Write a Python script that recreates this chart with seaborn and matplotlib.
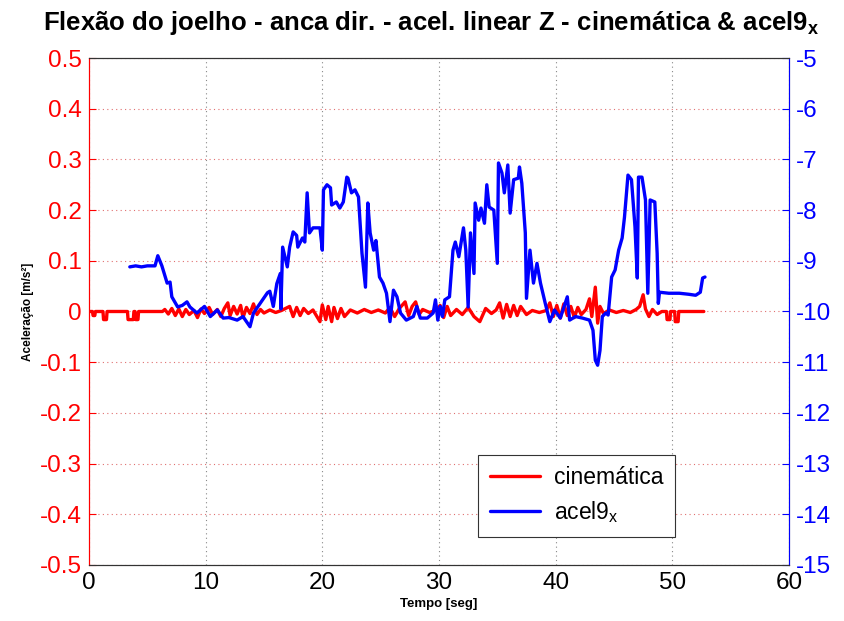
import matplotlib
matplotlib.use("Agg")
import matplotlib.pyplot as plt
import seaborn as sns
import pandas as pd
from matplotlib.lines import Line2D

# acel9_x (right axis), (time, value)
acel_points = [
    (3.5, -9.12), (4.0, -9.10), (4.5, -9.12), (5.0, -9.10), (5.66, -9.10), (5.9, -8.90),
    (6.25, -9.10), (6.7, -9.44), (6.95, -9.42), (7.1, -9.71), (7.4, -9.83), (7.6, -9.91),
    (8.0, -9.88), (8.4, -9.81), (8.65, -9.91), (9.25, -10.03), (9.9, -9.90), (10.4, -10.10),
    (11.0, -9.97), (11.5, -10.13), (12.0, -10.12), (12.7, -10.17), (13.2, -10.10),
    (13.8, -10.30), (14.1, -10.03), (14.7, -9.83), (15.3, -9.63), (15.5, -9.60),
    (15.8, -9.90), (16.1, -9.45), (16.4, -9.25), (16.45, -9.95), (16.6, -8.73),
    (17.0, -9.12), (17.2, -8.73), (17.5, -8.43), (17.8, -8.50), (17.9, -8.73),
    (18.3, -8.55), (18.5, -8.63), (18.7, -7.66), (18.9, -8.45), (19.2, -8.35),
    (19.8, -8.35), (20.0, -8.79), (20.1, -7.60), (20.4, -7.50), (20.7, -7.56),
    (20.8, -7.90), (21.2, -7.84), (21.5, -7.96), (21.8, -7.84), (22.1, -7.35),
    (22.2, -7.37), (22.5, -7.66), (22.8, -7.60), (23.1, -7.74), (23.4, -8.85),
    (23.7, -9.52), (23.9, -7.86), (24.1, -8.45), (24.4, -8.79), (24.6, -8.60),
    (24.9, -9.32), (25.2, -9.44), (25.5, -9.64), (25.8, -10.20), (26.1, -9.58),
    (26.4, -9.71), (26.7, -10.03), (27.2, -10.17), (27.8, -10.10), (28.1, -9.90),
    (28.4, -10.13), (29.0, -10.13), (29.5, -10.03), (29.7, -9.77), (29.9, -10.17),
    (30.1, -9.90), (30.3, -10.10), (30.5, -9.77), (30.9, -9.71), (31.2, -8.79),
    (31.4, -8.63), (31.7, -8.92), (32.1, -8.35), (32.3, -8.79), (32.5, -9.91),
    (32.7, -8.45), (33.0, -9.25), (33.1, -7.86), (33.4, -8.20), (33.6, -7.96),
    (33.9, -8.26), (34.1, -7.50), (34.3, -7.94), (34.7, -8.00), (35.0, -9.05),
    (35.1, -7.07), (35.4, -7.27), (35.6, -7.66), (35.9, -7.11), (36.1, -8.06),
    (36.4, -7.40), (36.8, -7.37), (36.9, -7.15), (37.1, -7.47), (37.4, -8.45),
    (37.5, -9.74), (37.8, -8.79), (38.1, -9.44), (38.4, -9.05), (38.7, -9.44),
    (39.1, -9.83), (39.5, -10.20), (39.9, -9.97), (40.4, -10.13), (41.0, -9.71),
    (41.2, -10.17), (41.7, -10.10), (42.3, -10.13), (42.9, -10.17), (43.2, -10.37),
    (43.4, -10.96), (43.6, -11.06), (43.8, -10.77), (44.0, -10.10), (44.3, -10.03),
    (44.5, -10.07), (44.8, -9.32), (45.1, -9.18), (45.4, -8.79), (45.7, -8.55),
    (45.9, -8.14), (46.2, -7.31), (46.5, -7.40), (46.8, -8.33), (47.0, -9.34),
    (47.1, -7.35), (47.4, -7.35), (47.7, -7.80), (47.9, -9.64), (48.1, -7.80),
    (48.5, -7.84), (48.7, -8.85), (48.8, -9.84), (48.9, -9.62), (49.7, -9.64),
    (50.6, -9.64), (51.4, -9.66), (52.0, -9.68), (52.4, -9.62), (52.6, -9.34),
    (52.8, -9.32),
]

# cinematica (left axis), (time, value)
cin_points = [
    (0.0, 0), (0.3, 0), (0.35, -0.008), (0.5, -0.008), (0.55, 0), (1.2, 0), (1.25, -0.016),
    (1.5, -0.016), (1.55, 0), (3.3, 0), (3.35, -0.016), (3.8, -0.016), (3.85, 0), (3.95, 0),
    (4.0, -0.016), (4.2, -0.016), (4.25, 0), (6.3, 0), (6.5, 0.004), (6.8, -0.005),
    (7.1, 0.006), (7.4, -0.008), (7.7, 0.005), (8.0, -0.010), (8.3, 0.004), (8.6, -0.006),
    (9.0, 0.002), (9.3, -0.012), (9.6, 0.005), (9.9, -0.004), (10.3, 0.008), (10.6, -0.006),
    (11.0, 0.004), (11.3, -0.010), (11.6, 0.006), (11.9, 0.017), (12.1, -0.008),
    (12.4, 0.010), (12.7, -0.005), (13.0, 0.012), (13.2, -0.012), (13.5, 0.008),
    (13.8, -0.004), (14.1, 0.015), (14.4, -0.006), (14.7, 0.004), (15.0, -0.003),
    (15.5, 0.003), (16.0, -0.002), (16.5, 0.002), (17.2, 0.010), (17.5, -0.010),
    (17.8, 0.008), (18.1, -0.008), (18.4, 0.006), (18.8, -0.004), (19.2, 0.003),
    (19.8, -0.020), (20.0, 0.013), (20.3, -0.016), (20.5, 0.010), (20.8, -0.020),
    (21.0, 0.008), (21.3, -0.014), (21.6, 0.006), (21.9, -0.010), (22.4, 0.003),
    (23.0, -0.003), (23.6, 0.004), (24.2, -0.002), (24.8, 0.003), (25.4, -0.003),
    (25.8, 0.008), (26.2, -0.010), (26.6, 0.006), (27.1, 0.019), (27.4, -0.008),
    (27.7, 0.010), (28.0, 0.019), (28.3, -0.006), (28.6, 0.004), (29.2, -0.002),
    (29.8, 0.003), (30.1, 0.012), (30.4, -0.012), (30.7, 0.010), (31.0, -0.008),
    (31.5, 0.004), (32.0, -0.006), (32.5, 0.008), (33.0, -0.010), (33.5, -0.020),
    (34.0, 0.006), (34.5, -0.004), (34.9, 0.003), (35.2, 0.017), (35.5, -0.013),
    (35.8, 0.014), (36.1, -0.010), (36.4, 0.012), (36.7, -0.008), (37.0, 0.010),
    (37.5, -0.006), (38.0, 0.002), (38.6, -0.002), (39.2, 0.002), (39.5, 0.017),
    (39.8, -0.010), (40.1, 0.012), (40.4, -0.013), (40.7, 0.015), (41.0, -0.008),
    (41.3, 0.010), (41.6, -0.012), (41.9, 0.008), (42.2, -0.006), (42.6, 0.004),
    (42.9, 0.025), (43.1, -0.010), (43.4, 0.048), (43.6, -0.023), (43.8, 0.010),
    (44.1, -0.004), (44.6, 0.003), (45.2, -0.002), (45.8, 0.002), (46.4, -0.002),
    (46.9, 0.004), (47.2, 0.010), (47.5, 0.033), (47.7, 0.005), (48.0, -0.010),
    (48.3, 0.004), (48.7, -0.006), (49.1, 0), (49.5, 0), (49.55, -0.016), (49.8, -0.016),
    (49.85, 0), (50.2, 0), (50.25, -0.020), (50.5, -0.020), (50.55, 0), (52.7, 0),
]

left_ticks = [0.5, 0.4, 0.3, 0.2, 0.1, 0.0, -0.1, -0.2, -0.3, -0.4, -0.5]
left_labels = ["0.5", "0.4", "0.3", "0.2", "0.1", "0", "-0.1", "-0.2", "-0.3", "-0.4", "-0.5"]
right_ticks = [-5, -6, -7, -8, -9, -10, -11, -12, -13, -14, -15]
right_labels = ["-5", "-6", "-7", "-8", "-9", "-10", "-11", "-12", "-13", "-14", "-15"]
x_ticks = [0, 10, 20, 30, 40, 50, 60]

sns.set_theme(style="white")
plt.rcParams.update({
    "font.family": ["Liberation Sans", "DejaVu Sans"],
    "mathtext.fontset": "custom",
    "mathtext.rm": "Liberation Sans",
    "mathtext.it": "Liberation Sans",
    "mathtext.bf": "Liberation Sans:bold",
    "text.color": "black",
    "axes.labelcolor": "black",
})

red = "#ff0000"
blue = "#0000ff"

df_cin = pd.DataFrame(cin_points, columns=["t", "v"])
df_acel = pd.DataFrame(acel_points, columns=["t", "v"])

fig = plt.figure(figsize=(8.45, 6.21), dpi=100)
ax1 = fig.add_axes([0.1053, 0.0902, 0.8284, 0.8164])
ax2 = ax1.twinx()

sns.lineplot(data=df_cin, x="t", y="v", color=red, linewidth=2.4, ax=ax1,
             estimator=None, sort=False)
sns.lineplot(data=df_acel, x="t", y="v", color=blue, linewidth=2.4, ax=ax2,
             estimator=None, sort=False)

ax1.set_xlim(0, 60)
ax1.set_ylim(-0.5, 0.5)
ax2.set_ylim(-15, -5)
ax1.set_xticks(x_ticks)
ax1.set_xticklabels([str(x) for x in x_ticks], fontsize=17.5)
ax1.set_yticks(left_ticks)
ax1.set_yticklabels(left_labels, fontsize=17.5, color=red)
ax2.set_yticks(right_ticks)
ax2.set_yticklabels(right_labels, fontsize=17.5, color=blue)

ax1.tick_params(axis="both", direction="in", length=5, width=0.8, pad=5)
ax1.tick_params(axis="x", colors="#333333", labelcolor="black")
ax1.tick_params(axis="y", colors=red)
ax2.tick_params(axis="y", direction="in", length=5, width=0.8, colors=blue, pad=5)

ax1.yaxis.grid(True, linestyle=(0, (1, 3)), color="#e07070", linewidth=0.8)
ax1.xaxis.grid(True, linestyle=(0, (1, 3)), color="#888888", linewidth=0.8)
ax1.set_axisbelow(True)

for s in ax1.spines.values():
    s.set_linewidth(0.8)
for s in ax2.spines.values():
    s.set_linewidth(0.8)
ax1.spines["left"].set_color(red)
ax1.spines["bottom"].set_color("#333333")
ax1.spines["top"].set_color("#333333")
ax2.spines["left"].set_color(red)
ax2.spines["right"].set_color(blue)
ax2.spines["top"].set_color("#333333")
ax2.spines["bottom"].set_color("#333333")

ax1.set_xlabel("Tempo [seg]", fontsize=9.5, fontweight="bold", color="black", labelpad=3)
ax1.set_ylabel("Aceleração [m/s²]", fontsize=8.5, fontweight="bold", color="black", labelpad=4)
ax2.set_ylabel("")

fig.suptitle(r"Flexão do joelho - anca dir. - acel. linear Z - cinemática & acel9$_\mathbf{x}$",
             fontsize=18.5, fontweight="bold", x=0.51, y=0.985, color="black")

handles = [Line2D([], [], color=red, linewidth=2.4),
           Line2D([], [], color=blue, linewidth=2.4)]
leg = ax2.legend(handles, ["cinemática", r"acel9$_\mathrm{x}$"], loc="lower left",
                 bbox_to_anchor=(0.54, 0.033), fontsize=16.5, frameon=True, fancybox=False,
                 framealpha=1, edgecolor="#333333", handlelength=2.2, borderpad=0.5,
                 labelspacing=0.45, handletextpad=0.6)
leg.get_frame().set_linewidth(0.8)

fig.savefig("out.png", dpi=100)
